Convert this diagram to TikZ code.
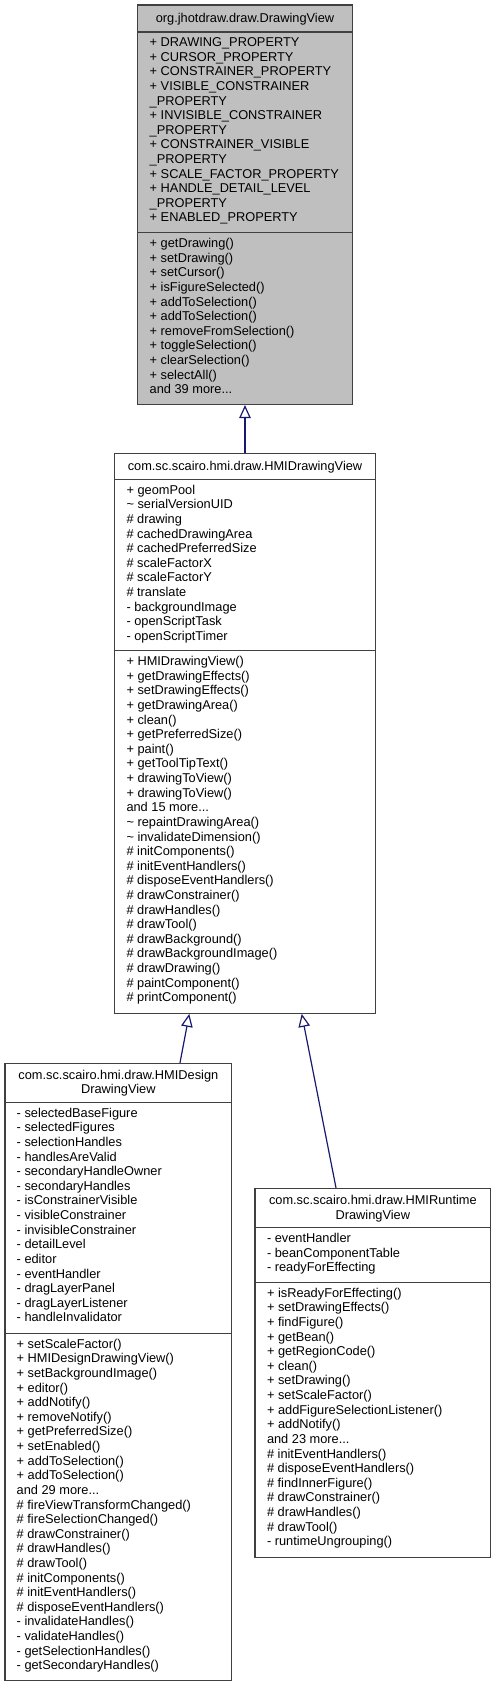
\documentclass[tikz,border=0pt]{standalone}
\usepackage{fontspec}
\setmainfont{Liberation Sans}
\usetikzlibrary{arrows.meta}
\definecolor{navy}{HTML}{191970}

\begin{document}
\begin{tikzpicture}[x=1pt,y=-1pt,font=\fontsize{12.8}{14.62}\selectfont,
	classbox/.style={draw=black!75, line width=1.1pt, inner sep=0pt, fill=white},
	sepline/.style={draw=black!75, line width=1.1pt},
	title/.style={anchor=north, align=center, inner sep=0pt, execute at begin node=\strut},
	members/.style={anchor=north west, align=left, inner sep=0pt, execute at begin node=\strut},
	inherit/.style={draw=navy, line width=1.2pt, {Triangle[open,length=13pt,width=11.5pt]}-}]
	\useasboundingbox (0,0) rectangle (496,1688);

	% Classe base (interfaccia)
	\node[classbox, fill=black!25, minimum width=215pt, minimum height=399.5pt] (drawingview) at (245,204.75) {};
	\draw[sepline] (drawingview.west |- 0,32) -- (drawingview.east |- 0,32);
	\draw[sepline] (drawingview.west |- 0,232.7) -- (drawingview.east |- 0,232.7);
	\node[title] (drawingview-name) at (245,11.7) {org.jhotdraw.draw.DrawingView};
	\node[members] (drawingview-attr) at (149.5,37.4) {+ DRAWING\_PROPERTY\\
		+ CURSOR\_PROPERTY\\
		+ CONSTRAINER\_PROPERTY\\
		+ VISIBLE\_CONSTRAINER\\
		\_PROPERTY\\
		+ INVISIBLE\_CONSTRAINER\\
		\_PROPERTY\\
		+ CONSTRAINER\_VISIBLE\\
		\_PROPERTY\\
		+ SCALE\_FACTOR\_PROPERTY\\
		+ HANDLE\_DETAIL\_LEVEL\\
		\_PROPERTY\\
		+ ENABLED\_PROPERTY};
	\node[members] (drawingview-ops) at (149.5,238.1) {+ getDrawing()\\
		+ setDrawing()\\
		+ setCursor()\\
		+ isFigureSelected()\\
		+ addToSelection()\\
		+ addToSelection()\\
		+ removeFromSelection()\\
		+ toggleSelection()\\
		+ clearSelection()\\
		+ selectAll()\\
		and 39 more...};

	% HMIDrawingView
	\node[classbox, minimum width=261.4pt, minimum height=560pt] (hmiview) at (245,733.3) {};
	\draw[sepline] (hmiview.west |- 0,479.3) -- (hmiview.east |- 0,479.3);
	\draw[sepline] (hmiview.west |- 0,650.7) -- (hmiview.east |- 0,650.7);
	\node[title] (hmiview-name) at (245,460) {com.sc.scairo.hmi.draw.HMIDrawingView};
	\node[members] (hmiview-attr) at (126.3,484.7) {+ geomPool\\
		\textasciitilde{} serialVersionUID\\
		\# drawing\\
		\# cachedDrawingArea\\
		\# cachedPreferredSize\\
		\# scaleFactorX\\
		\# scaleFactorY\\
		\# translate\\
		- backgroundImage\\
		- openScriptTask\\
		- openScriptTimer};
	\node[members] (hmiview-ops) at (126.3,656.1) {+ HMIDrawingView()\\
		+ getDrawingEffects()\\
		+ setDrawingEffects()\\
		+ getDrawingArea()\\
		+ clean()\\
		+ getPreferredSize()\\
		+ paint()\\
		+ getToolTipText()\\
		+ drawingToView()\\
		+ drawingToView()\\
		and 15 more...\\
		\textasciitilde{} repaintDrawingArea()\\
		\textasciitilde{} invalidateDimension()\\
		\# initComponents()\\
		\# initEventHandlers()\\
		\# disposeEventHandlers()\\
		\# drawConstrainer()\\
		\# drawHandles()\\
		\# drawTool()\\
		\# drawBackground()\\
		\# drawBackgroundImage()\\
		\# drawDrawing()\\
		\# paintComponent()\\
		\# printComponent()};

	% HMIDesignDrawingView
	\node[classbox, minimum width=226.7pt, minimum height=617.4pt] (designview) at (118.35,1372) {};
	\draw[sepline] (designview.west |- 0,1102.3) -- (designview.east |- 0,1102.3);
	\draw[sepline] (designview.west |- 0,1333.3) -- (designview.east |- 0,1333.3);
	\node[title] (designview-name) at (118.35,1069.6) {com.sc.scairo.hmi.draw.HMIDesign\\DrawingView};
	\node[members] (designview-attr) at (16.5,1107.7) {- selectedBaseFigure\\
		- selectedFigures\\
		- selectionHandles\\
		- handlesAreValid\\
		- secondaryHandleOwner\\
		- secondaryHandles\\
		- isConstrainerVisible\\
		- visibleConstrainer\\
		- invisibleConstrainer\\
		- detailLevel\\
		- editor\\
		- eventHandler\\
		- dragLayerPanel\\
		- dragLayerListener\\
		- handleInvalidator};
	\node[members] (designview-ops) at (16.5,1338.7) {+ setScaleFactor()\\
		+ HMIDesignDrawingView()\\
		+ setBackgroundImage()\\
		+ editor()\\
		+ addNotify()\\
		+ removeNotify()\\
		+ getPreferredSize()\\
		+ setEnabled()\\
		+ addToSelection()\\
		+ addToSelection()\\
		and 29 more...\\
		\# fireViewTransformChanged()\\
		\# fireSelectionChanged()\\
		\# drawConstrainer()\\
		\# drawHandles()\\
		\# drawTool()\\
		\# initComponents()\\
		\# initEventHandlers()\\
		\# disposeEventHandlers()\\
		- invalidateHandles()\\
		- validateHandles()\\
		- getSelectionHandles()\\
		- getSecondaryHandles()};

	% HMIRuntimeDrawingView
	\node[classbox, minimum width=235.7pt, minimum height=369.2pt] (runtimeview) at (372.85,1372.9) {};
	\draw[sepline] (runtimeview.west |- 0,1227.7) -- (runtimeview.east |- 0,1227.7);
	\draw[sepline] (runtimeview.west |- 0,1282.3) -- (runtimeview.east |- 0,1282.3);
	\node[title] (runtimeview-name) at (372.85,1195) {com.sc.scairo.hmi.draw.HMIRuntime\\DrawingView};
	\node[members] (runtimeview-attr) at (266.8,1233.1) {- eventHandler\\
		- beanComponentTable\\
		- readyForEffecting};
	\node[members] (runtimeview-ops) at (266.8,1287.7) {+ isReadyForEffecting()\\
		+ setDrawingEffects()\\
		+ findFigure()\\
		+ getBean()\\
		+ getRegionCode()\\
		+ clean()\\
		+ setDrawing()\\
		+ setScaleFactor()\\
		+ addFigureSelectionListener()\\
		+ addNotify()\\
		and 23 more...\\
		\# initEventHandlers()\\
		\# disposeEventHandlers()\\
		\# findInnerFigure()\\
		\# drawConstrainer()\\
		\# drawHandles()\\
		\# drawTool()\\
		- runtimeUngrouping()};

	% Ereditarieta
	\draw[inherit] (drawingview.south) -- (hmiview.north);
	\draw[inherit] ([xshift=-55.7pt]hmiview.south) -- ([xshift=61.65pt]designview.north);
	\draw[inherit] ([xshift=56.7pt]hmiview.south) -- ([xshift=-36.85pt]runtimeview.north);
\end{tikzpicture}
\end{document}
